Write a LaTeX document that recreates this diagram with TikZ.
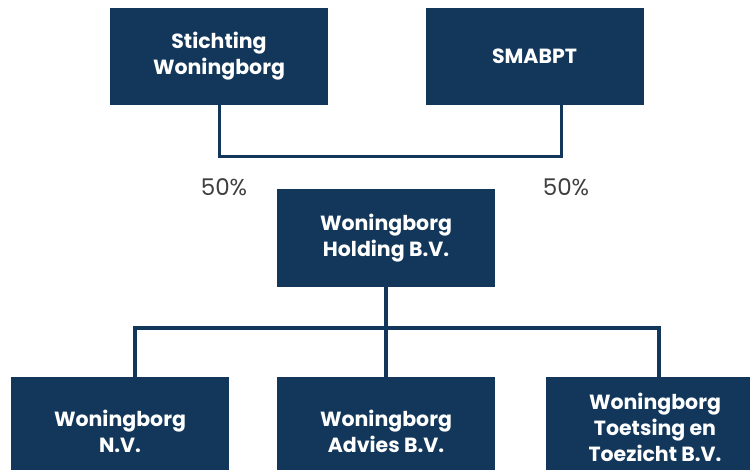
\documentclass[tikz,border=0pt]{standalone}
\usepackage{fontspec}
\setmainfont{Poppins}
\usetikzlibrary{calc}
\definecolor{navy}{HTML}{12375A}
\definecolor{inksoft}{HTML}{3F3F3F}

\begin{document}
\begin{tikzpicture}[
  x=1pt, y=1pt,
  entity/.style={fill=navy, text=white, align=center, minimum width=218pt,
    minimum height=97pt, inner sep=2pt, font=\bfseries\fontsize{20.5}{26}\selectfont},
  lowentity/.style={entity, minimum height=108pt},
  link/.style={draw=navy, line width=3pt},
  share/.style={text=inksoft, font=\fontsize{23}{26}\selectfont}
]
\useasboundingbox (0,0) rectangle (750,470);

\node[entity] (stichting) at (219,413.5) {Stichting\\Woningborg};
\node[entity] (smabpt) at (534.5,413.5) {SMABPT};
\node[entity, minimum height=98pt] (holding) at (386,232) {Woningborg\\Holding B.V.};

\node[lowentity] (nv) at (120,39) {Woningborg\\N.V.};
\node[lowentity] (advies) at (386,39) {Woningborg\\Advies B.V.};
\node[lowentity, minimum height=100pt] (toetsing) at (655,43) {Woningborg\\Toetsing en\\Toezicht B.V.};

\coordinate (topbar) at (390,313);
\coordinate (split) at (386,142);

\draw[link] (stichting.south) |- (topbar) -| ($(smabpt.south)+(26.5,0)$);
\draw[link, line width=4pt] (holding.south) -- (advies.north);
\draw[link, line width=4pt] ($(nv.north)+(15,0)$) |- (split) -| ($(toetsing.north)+(4,0)$);

\node[share] (leftshare) at (224,283) {50\%};
\node[share] (rightshare) at (566,283) {50\%};
\end{tikzpicture}
\end{document}
